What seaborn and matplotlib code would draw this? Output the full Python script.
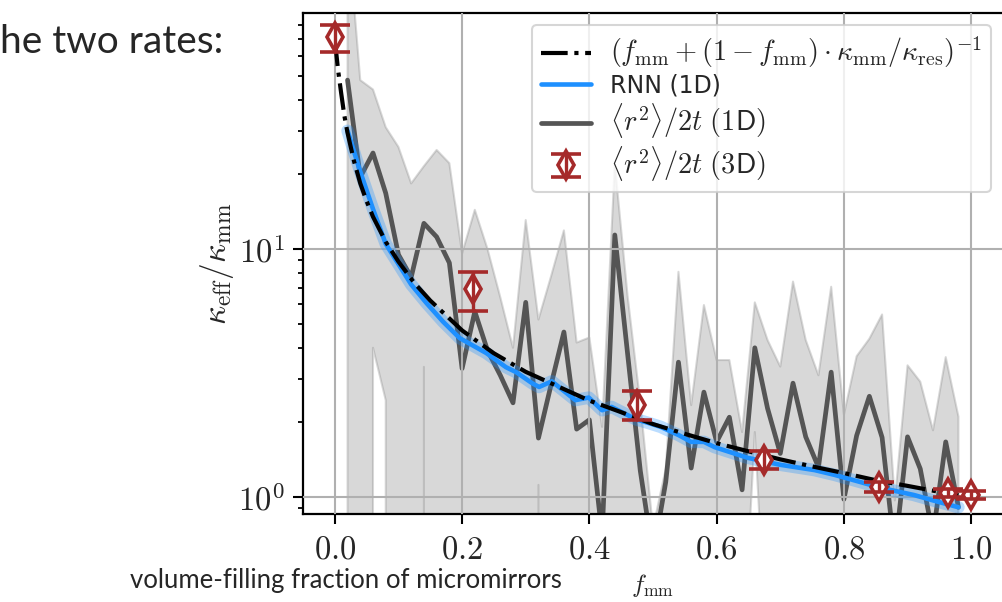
import numpy as np
import matplotlib
matplotlib.use("Agg")
import matplotlib.pyplot as plt
import seaborn as sns
from matplotlib.lines import Line2D
from matplotlib.container import ErrorbarContainer
from matplotlib.legend_handler import HandlerErrorbar
from matplotlib.ticker import FuncFormatter, NullFormatter, LogLocator

# ---------------- data ----------------
f_model = [0.0, 0.005, 0.01, 0.015, 0.02, 0.03, 0.04, 0.05, 0.06, 0.08, 0.10, 0.125,
           0.15, 0.175, 0.20, 0.25, 0.30, 0.35, 0.40, 0.45, 0.50, 0.55, 0.60, 0.65,
           0.70, 0.75, 0.80, 0.85, 0.90, 0.95, 0.98]
k_model = [70.0, 53.0, 42.5, 34.5, 29.4, 22.7, 18.4, 15.6, 13.5, 10.7, 8.9, 7.3,
           6.2, 5.4, 4.7, 3.8, 3.2, 2.8, 2.45, 2.2, 1.97, 1.8, 1.65, 1.53,
           1.42, 1.33, 1.25, 1.17, 1.11, 1.05, 1.02]

f_rnn = [0.02, 0.04, 0.06, 0.08, 0.10, 0.12, 0.144, 0.17, 0.196, 0.238, 0.269, 0.285,
         0.31, 0.321, 0.341, 0.378, 0.399, 0.42, 0.435, 0.473, 0.493, 0.512, 0.54,
         0.56, 0.58, 0.597, 0.649, 0.70, 0.754, 0.785, 0.826, 0.858, 0.91, 0.94, 0.98]
k_rnn = [30.0, 20.5, 14.5, 10.5, 8.7, 7.2, 6.06, 5.1, 4.38, 3.81, 3.34, 3.19,
         2.88, 2.78, 2.93, 2.46, 2.52, 2.24, 2.31, 2.06, 1.99, 1.92, 1.78,
         1.67, 1.67, 1.59, 1.44, 1.35, 1.285, 1.23, 1.15, 1.09, 1.02, 0.97, 0.91]

f_1d = [0.02, 0.04, 0.06, 0.08, 0.10, 0.12, 0.14, 0.16, 0.18, 0.20,
        0.22, 0.24, 0.26, 0.28, 0.30, 0.32, 0.34, 0.36, 0.38, 0.40,
        0.42, 0.44, 0.46, 0.48, 0.50, 0.52, 0.54, 0.56, 0.58, 0.60,
        0.62, 0.64, 0.66, 0.68, 0.70, 0.72, 0.74, 0.76, 0.78, 0.80,
        0.82, 0.84, 0.86, 0.88, 0.90, 0.92, 0.94, 0.96, 0.98]
k_1d = [48.0, 19.5, 24.4, 16.8, 9.5, 7.7, 12.7, 11.2, 8.8, 3.3,
        5.6, 3.9, 3.1, 2.4, 6.1, 1.73, 2.85, 4.63, 1.88, 2.05,
        0.7, 11.4, 3.8, 1.28, 0.58, 1.15, 3.5, 1.31, 2.65, 1.67,
        2.1, 1.07, 4.0, 2.28, 1.5, 2.88, 1.75, 1.32, 3.19, 0.98,
        1.77, 2.55, 1.74, 0.6, 1.75, 1.3, 0.7, 1.67, 0.91]
k_1d_hi = [200.0, 48.0, 44.0, 31.0, 25.8, 18.4, 21.6, 25.1, 22.2, 9.6,
           14.4, 10.0, 6.4, 4.0, 13.1, 5.2, 7.8, 11.9, 4.2, 4.4,
           1.92, 22.0, 6.5, 2.4, 0.75, 1.3, 8.1, 2.35, 5.95, 3.57,
           3.57, 1.83, 6.1, 4.3, 3.36, 7.4, 4.3, 3.1, 7.05, 2.15,
           3.7, 4.35, 5.45, 0.97, 3.4, 2.92, 1.86, 3.67, 2.11]
k_1d_lo = [0.0, 0.0, 4.0, 2.46, 0.0, 0.0, 3.35, 0.0, 0.0, 0.0,
           0.0, 0.0, 0.0, 0.0, 0.0, 1.12, 0.0, 0.0, 0.0, 0.0,
           0.0, 0.0, 0.0, 0.0, 0.0, 0.0, 0.0, 0.0, 0.0, 0.0,
           0.0, 0.2, 1.83, 0.2, 0.0, 0.0, 0.0, 0.0, 0.0, 0.0,
           0.0, 0.0, 0.0, 0.0, 0.0, 0.0, 0.0, 0.0, 0.0]

f_3d = [0.0, 0.217, 0.475, 0.674, 0.855, 0.964, 1.0]
k_3d = [71.6, 6.9, 2.35, 1.41, 1.10, 1.04, 1.02]
k_3d_lo = [62.5, 5.62, 2.04, 1.30, 1.05, 1.00, 0.98]
k_3d_hi = [80.3, 8.08, 2.68, 1.54, 1.15, 1.08, 1.06]

x_ticks = [0.0, 0.2, 0.4, 0.6, 0.8, 1.0]
x_ticklabels = ["0.0", "0.2", "0.4", "0.6", "0.8", "1.0"]

label_model = r"$(f_{\rm mm} + (1 - f_{\rm mm}) \cdot \kappa_{\rm mm}/\kappa_{\rm res})^{-1}$"
label_rnn = "RNN (1D)"
label_1d = r"$\langle r^2 \rangle/2t\ \mathsf{(1D)}$"
label_3d = r"$\langle r^2 \rangle/2t\ \mathsf{(3D)}$"

slide_top = "he two rates:"
slide_bottom = "volume-filling fraction of micromirrors"

# ---------------- style ----------------
sns.set_style("ticks")
plt.rcParams["font.family"] = ["DejaVu Sans"]
plt.rcParams["mathtext.fontset"] = "cm"
plt.rcParams["axes.linewidth"] = 1.5

BLUE = "#1e90ff"
DARK = "#555555"
RED = "#a52a2a"

fig = plt.figure(figsize=(10.02, 6.02), dpi=100)
ax = fig.add_axes([303 / 1002, 1 - 514 / 602, 700 / 1002, (514 - 13) / 602])
ax.set_yscale("log")

# 1D band and mean
ax.fill_between(f_1d, k_1d_lo, k_1d_hi, color="gray", alpha=0.3, lw=1.5, zorder=1)
sns.lineplot(x=f_1d, y=k_1d, ax=ax, color=DARK, lw=3.4, zorder=2, legend=False,
             estimator=None, sort=False)
# RNN band and line
sns.lineplot(x=f_rnn, y=k_rnn, ax=ax, color=BLUE, lw=9, alpha=0.3, zorder=3,
             legend=False, estimator=None, sort=False)
sns.lineplot(x=f_rnn, y=k_rnn, ax=ax, color=BLUE, lw=3.3, zorder=3.1,
             legend=False, estimator=None, sort=False)
# model curve
sns.lineplot(x=f_model, y=k_model, ax=ax, color="black", lw=3.0, linestyle="-.",
             zorder=4, legend=False, estimator=None, sort=False)
# 3D points
k3 = np.array(k_3d)
yerr = [k3 - np.array(k_3d_lo), np.array(k_3d_hi) - k3]
eb = ax.errorbar(f_3d, k_3d, yerr=yerr, fmt="d", ms=14, mfc="white", mec=RED,
                 mew=2.6, ecolor=RED, elinewidth=2.4, capsize=11, capthick=2.8,
                 barsabove=True, zorder=5, label=label_3d)

ax.set_xlim(-0.05, 1.05)
ax.set_ylim(0.855, 89.5)

ax.grid(True, which="major", color="#b0b0b0", lw=1.5)
ax.set_axisbelow(False)

ax.set_xticks(x_ticks)
ax.set_xticklabels([f"${t}$" for t in x_ticklabels])
ax.yaxis.set_major_locator(LogLocator(base=10, numticks=10))
ax.yaxis.set_major_formatter(FuncFormatter(lambda v, p: r"$10^{%d}$" % int(round(np.log10(v)))))
ax.yaxis.set_minor_formatter(NullFormatter())
ax.tick_params(which="major", direction="out", length=7, width=1.5, labelsize=23.5,
               pad=6, color="black")
ax.tick_params(which="minor", direction="out", length=3.8, width=1.3, color="black")

ax.set_ylabel(r"$\kappa_{\rm eff}/\kappa_{\rm mm}$", fontsize=24, labelpad=2)
ax.set_xlabel(r"$f_{\rm mm}$", fontsize=18, labelpad=5)

for s in ax.spines.values():
    s.set_color("black")
    s.set_linewidth(1.6)


class BarsThrough(HandlerErrorbar):
    def create_artists(self, *args, **kwargs):
        arts = super().create_artists(*args, **kwargs)
        markers = [a for a in arts if isinstance(a, Line2D) and a.get_marker() == "d"]
        others = [a for a in arts if a not in markers]
        return markers + others


h_model = Line2D([], [], color="black", lw=3.0, linestyle="-.")
h_rnn = Line2D([], [], color=BLUE, lw=3.3)
h_1d = Line2D([], [], color=DARK, lw=3.4)
leg = ax.legend([h_model, h_rnn, h_1d, eb], [label_model, label_rnn, label_1d, label_3d],
                loc="upper right", fontsize=17, handlelength=2.1, framealpha=0.8,
                fancybox=True, edgecolor="#cccccc", labelspacing=0.15,
                borderaxespad=0.5, handler_map={ErrorbarContainer: BarsThrough()})
leg.get_frame().set_linewidth(1.5)
leg.set_zorder(10)
for t, s in zip(leg.get_texts(), [20.4, 17, 20.4, 20.4]):
    t.set_fontsize(s)

fig.text(0.0, 1 - 53 / 602, slide_top, family=["Lato", "DejaVu Sans"], fontsize=28,
         va="baseline", ha="left")
fig.text(130 / 1002, 1 - 588 / 602, slide_bottom, family=["Lato", "DejaVu Sans"],
         fontsize=18.5, va="baseline", ha="left")

fig.savefig("out.png", dpi=100)
